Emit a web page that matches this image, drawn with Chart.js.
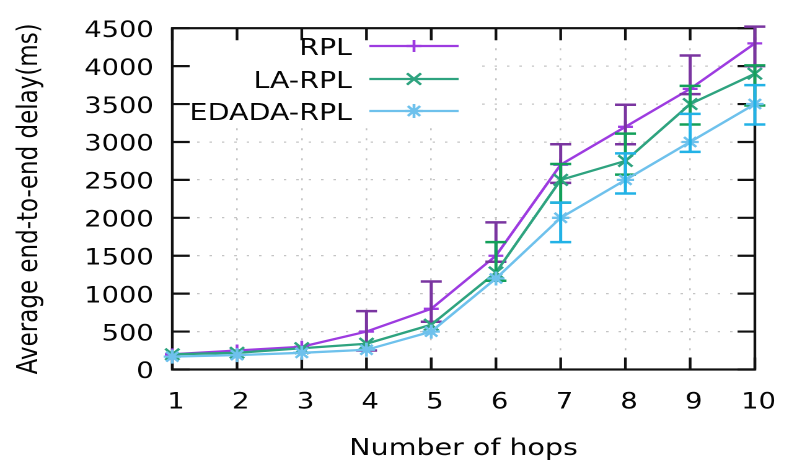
<!DOCTYPE html>
<html>
<head>
<meta charset="utf-8">
<script src="https://cdn.jsdelivr.net/npm/chart.js@4/dist/chart.umd.min.js"></script>
<style>
  html, body { margin: 0; padding: 0; background: #fff; }
</style>
</head>
<body>
<!-- the reference picture is stretched sideways, so the canvas is drawn narrow and widened by css -->
<canvas id="chart" width="643" height="476" style="display:block;width:797px;height:476px"></canvas>
<script>
// Data
const hops = [1, 2, 3, 4, 5, 6, 7, 8, 9, 10];
const yTickValues = [0, 500, 1000, 1500, 2000, 2500, 3000, 3500, 4000, 4500];

const rplDelay = [200, 250, 300, 500, 800, 1500, 2700, 3200, 3700, 4300];
const rplLow = [null, null, null, 250, 630, 1420, 2460, 2970, 3630, 4000];
const rplHigh = [null, null, null, 770, 1160, 1940, 2970, 3490, 4140, 4520];

const laDelay = [200, 220, 280, 340, 590, 1280, 2500, 2750, 3500, 3900];
const laLow = [null, null, null, null, null, 1170, 2200, 2570, 3230, 3480];
const laHigh = [null, null, null, null, null, 1680, 2710, 3110, 3740, 4010];

const edadaDelay = [170, 190, 220, 260, 500, 1200, 2000, 2500, 3000, 3500];
const edadaLow = [null, null, null, null, null, null, 1680, 2320, 2870, 3230];
const edadaHigh = [null, null, null, null, null, null, 2200, 2850, 3370, 3750];

const FONT = 'DejaVu Sans';
const TEXT_COLOR = '#050505';

// Build one line dataset
function buildDataset(label, values, low, high, color, errColor, pointStyle, radius, order) {
    return {
        label: label,
        data: hops.map((h, i) => ({ x: h, y: values[i] })),
        errLow: low,
        errHigh: high,
        errColor: errColor,
        borderColor: color,
        backgroundColor: color,
        borderWidth: 2.3,
        pointStyle: pointStyle,
        pointRadius: radius,
        pointBorderWidth: 2.3,
        pointBorderColor: color,
        pointBackgroundColor: color,
        tension: 0,
        clip: false,
        order: order
    };
}

// Draw a marker (legend sample)
function drawMarker(ctx, style, radius, x, y, color) {
    ctx.strokeStyle = color;
    ctx.fillStyle = color;
    ctx.lineWidth = 2.3;
    Chart.helpers.drawPoint(ctx, { pointStyle: style, radius: radius, rotation: 0, borderWidth: 2.3 }, x, y);
}

// Frame, inward tics and opaque key like gnuplot
const gnuplotFrame = {
    id: 'gnuplotFrame',
    beforeDatasetsDraw(chart) {
        const { ctx, chartArea: a, scales: { x, y } } = chart;
        ctx.save();
        // key box hides the grid behind it
        ctx.fillStyle = '#fff';
        ctx.fillRect(a.left + 1, a.top + 1, 381 - a.left, 127 - a.top);

        ctx.strokeStyle = '#111';
        ctx.lineWidth = 2.2;
        ctx.strokeRect(a.left, a.top, a.width, a.height);
        ctx.beginPath();
        yTickValues.forEach(v => {
            const py = y.getPixelForValue(v);
            ctx.moveTo(a.left, py); ctx.lineTo(a.left + 14, py);
            ctx.moveTo(a.right, py); ctx.lineTo(a.right - 14, py);
        });
        hops.forEach(h => {
            const px = x.getPixelForValue(h);
            ctx.moveTo(px, a.bottom); ctx.lineTo(px, a.bottom - 12);
            ctx.moveTo(px, a.top); ctx.lineTo(px, a.top + 12);
        });
        ctx.stroke();

        // key
        const rows = [46, 79, 111];
        ctx.font = `23px "${FONT}"`;
        ctx.textAlign = 'right';
        ctx.textBaseline = 'middle';
        chart.data.datasets.forEach((ds, i) => {
            const ry = rows[i];
            ctx.fillStyle = TEXT_COLOR;
            ctx.fillText(ds.label, 284, ry + 3);
            ctx.strokeStyle = ds.borderColor;
            ctx.lineWidth = 2.3;
            ctx.beginPath();
            ctx.moveTo(298, ry); ctx.lineTo(370, ry);
            ctx.stroke();
            drawMarker(ctx, ds.pointStyle, ds.pointRadius, 334, ry, ds.borderColor);
        });
        ctx.restore();
    },
    afterDatasetDraw(chart, args) {
        const ds = chart.data.datasets[args.index];
        const { ctx, scales: { x, y } } = chart;
        ctx.save();
        ctx.strokeStyle = ds.errColor;
        ctx.lineWidth = 2.5;
        ctx.beginPath();
        hops.forEach((h, i) => {
            if (ds.errLow[i] == null) return;
            const px = x.getPixelForValue(h);
            const lo = y.getPixelForValue(ds.errLow[i]);
            const hi = y.getPixelForValue(ds.errHigh[i]);
            ctx.moveTo(px, lo); ctx.lineTo(px, hi);
            ctx.moveTo(px - 8.5, lo); ctx.lineTo(px + 8.5, lo);
            ctx.moveTo(px - 8.5, hi); ctx.lineTo(px + 8.5, hi);
        });
        ctx.stroke();
        ctx.restore();
    }
};

const datasets = [
    buildDataset('RPL', rplDelay, rplLow, rplHigh, '#9d3be0', '#7a35a0', 'cross', 6, 2),
    buildDataset('LA-RPL', laDelay, laLow, laHigh, '#2ea37f', '#13a05a', 'crossRot', 8, 1),
    buildDataset('EDADA-RPL', edadaDelay, edadaLow, edadaHigh, '#6ec1ec', '#22b2e6', 'star', 7, 0)
];

const ctx = document.getElementById('chart');
new Chart(ctx, {
    type: 'line',
    data: { datasets: datasets },
    options: {
        responsive: false,
        animation: false,
        devicePixelRatio: 2,
        layout: { padding: { left: 10, right: 26, top: 17, bottom: 13 } },
        plugins: {
            legend: { display: false },
            tooltip: { enabled: false }
        },
        scales: {
            x: {
                type: 'linear',
                min: 1,
                max: 10,
                afterBuildTicks: s => { s.ticks = hops.map(v => ({ value: v })); },
                afterFit: s => { s.height = 476 - 13 - 369.5; },
                ticks: {
                    font: { family: FONT, size: 22 },
                    color: TEXT_COLOR,
                    padding: 20,
                    labelOffset: 3,
                    maxRotation: 0,
                    callback: v => String(v)
                },
                grid: { color: '#c4c4c4', lineWidth: 1.3, drawTicks: false },
                border: { display: false, dash: [2, 8] },
                title: {
                    display: true,
                    text: 'Number of hops',
                    font: { family: FONT, size: 23 },
                    color: TEXT_COLOR,
                    padding: { top: 0, bottom: 0 }
                }
            },
            y: {
                min: 0,
                max: 4500,
                afterBuildTicks: s => { s.ticks = yTickValues.map(v => ({ value: v })); },
                afterFit: s => { s.width = 139 - 10; },
                ticks: {
                    font: { family: FONT, size: 22 },
                    color: TEXT_COLOR,
                    padding: 15,
                    labelOffset: 3,
                    callback: v => String(v)
                },
                grid: { color: '#c4c4c4', lineWidth: 1.3, drawTicks: false },
                border: { display: false, dash: [2, 8] },
                title: {
                    display: true,
                    text: 'Average end-to-end delay(ms)',
                    font: { family: FONT, size: 23 },
                    color: TEXT_COLOR,
                    padding: 0
                }
            }
        }
    },
    plugins: [gnuplotFrame]
});
</script>
</body>
</html>
